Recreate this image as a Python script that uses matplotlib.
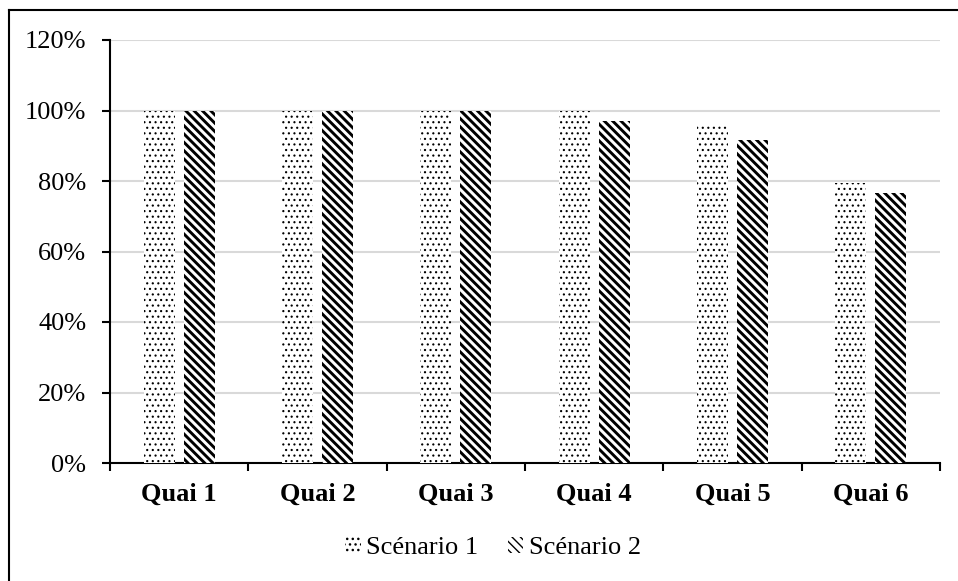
import matplotlib
matplotlib.use("Agg")
import matplotlib.pyplot as plt
import numpy as np
from matplotlib.lines import Line2D
from matplotlib.ticker import FuncFormatter, MultipleLocator, FixedLocator

categories = ["Quai 1", "Quai 2", "Quai 3", "Quai 4", "Quai 5", "Quai 6"]
series_names = ["Scénario 1", "Scénario 2"]
scenario1 = [100, 100, 100, 100, 96, 79.5]
scenario2 = [100, 100, 100, 97, 91.5, 76.5]

plt.rcParams["font.family"] = ["Liberation Serif", "DejaVu Serif"]
FS = 19

W, H = 958, 581
fig = plt.figure(figsize=(W / 100, H / 100), dpi=100)
ax = fig.add_axes([110 / W, 1 - 463 / H, (940 - 110) / W, (463 - 40) / H])

x = np.arange(len(categories))
bw = 0.225
off = 0.145
BS = chr(92)
with plt.rc_context({"hatch.linewidth": 0.8}):
    ax.bar(x - off, scenario1, bw, color="white", edgecolor="black", hatch="...",
           linewidth=0, label=series_names[0], zorder=3)
with plt.rc_context({"hatch.linewidth": 2.1}):
    ax.bar(x + off, scenario2, bw, color="white", edgecolor="black", hatch=BS * 4,
           linewidth=0, label=series_names[1], zorder=3)

ax.set_xlim(-0.5, len(categories) - 0.5)
ax.set_ylim(0, 120)
ax.yaxis.set_major_locator(MultipleLocator(20))
ax.yaxis.set_major_formatter(FuncFormatter(lambda v, p: f"{v:.0f}%"))
ax.grid(axis="y", color="#d9d9d9", linewidth=1.5, zorder=0)
ax.set_axisbelow(True)

ax.set_xticks(x)
ax.set_xticklabels(categories, fontweight="bold", fontsize=FS)
ax.xaxis.set_minor_locator(FixedLocator(np.arange(-0.5, len(categories), 1.0)))
ax.tick_params(axis="x", which="major", length=0, pad=14)
ax.tick_params(axis="x", which="minor", length=6, width=1.5, direction="out")
ax.tick_params(axis="y", which="major", length=6, width=1.5, pad=11, labelsize=FS)

for s in ["top", "right"]:
    ax.spines[s].set_visible(False)
ax.spines["left"].set_linewidth(1.5)
ax.spines["bottom"].set_linewidth(1.5)

leg = fig.legend(loc="center", bbox_to_anchor=(493 / W, 1 - 548 / H), ncol=2,
                 frameon=False, fontsize=FS, handlelength=0.6, handleheight=0.6,
                 handletextpad=0.2, columnspacing=1.1)

# outer frame (partly cropped in reference)
fig.add_artist(Line2D([8.5 / W, 8.5 / W], [0, 1 - 10 / H], transform=fig.transFigure,
                      color="black", linewidth=1.5))
fig.add_artist(Line2D([8.5 / W, 1], [1 - 10 / H, 1 - 10 / H], transform=fig.transFigure,
                      color="black", linewidth=1.5))

fig.savefig("out.png", dpi=100)
